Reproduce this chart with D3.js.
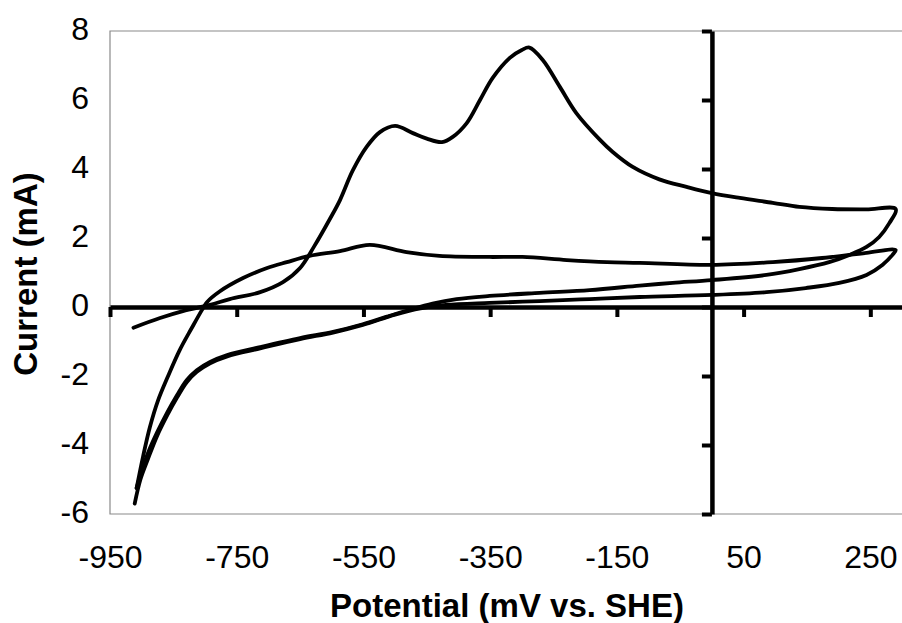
<!DOCTYPE html>
<html>
<head>
<meta charset="utf-8">
<script src="https://cdn.jsdelivr.net/npm/d3@7"></script>
<style>
  body { margin: 0; background: #fff; }
  svg { display: block; }
</style>
</head>
<body>
<svg id="chart" width="902" height="623"></svg>
<script>
const xTicks = [-950, -750, -550, -350, -150, 50, 250];
const yTicks = [-6, -4, -2, 0, 2, 4, 6, 8];

// first sweep: [potential mV, current mA], in scan order
const cycle1 = [
  [-913, -0.6], [-871, -0.32], [-835, -0.12], [-792, 0.06], [-761, 0.23],
  [-713, 0.43], [-677, 0.72], [-650, 1.13], [-628, 1.75], [-603, 2.55],
  [-587, 3.1], [-567, 3.95], [-545, 4.64], [-524, 5.07], [-500, 5.25],
  [-472, 5.04], [-450, 4.88], [-426, 4.78], [-409, 4.93], [-387, 5.33],
  [-366, 6.0], [-346, 6.64], [-319, 7.22], [-300, 7.45], [-288, 7.52],
  [-267, 7.16], [-240, 6.38], [-214, 5.62], [-177, 4.85], [-157, 4.5],
  [-125, 4.06], [-83, 3.7], [-40, 3.48], [0, 3.3], [44, 3.16],
  [96, 3.02], [138, 2.9], [190, 2.84], [244, 2.83], [290, 2.84],
  [280, 2.43], [264, 2.03], [244, 1.74], [217, 1.51], [185, 1.3],
  [138, 1.1], [86, 0.93], [0, 0.78], [-62, 0.7], [-114, 0.62],
  [-193, 0.49], [-272, 0.41], [-351, 0.32], [-403, 0.23], [-441, 0.1],
  [-477, -0.08], [-513, -0.28], [-551, -0.5], [-598, -0.72], [-650, -0.9],
  [-713, -1.16], [-765, -1.39], [-792, -1.59], [-813, -1.83], [-829, -2.12],
  [-844, -2.55], [-860, -3.07], [-876, -3.65], [-890, -4.23], [-900, -4.75],
  [-908, -5.25]
];

// second sweep, starts where the first one ends
const cycle2 = [
  [-908, -5.25], [-898, -4.35], [-887, -3.48], [-874, -2.7], [-859, -2.03],
  [-840, -1.25], [-821, -0.61], [-805, -0.09], [-797, 0.14], [-777, 0.45],
  [-740, 0.84], [-702, 1.13], [-671, 1.3], [-635, 1.48], [-587, 1.62],
  [-540, 1.8], [-482, 1.59], [-430, 1.48], [-351, 1.45], [-299, 1.45],
  [-229, 1.36], [-166, 1.3], [-114, 1.28], [-1, 1.22], [96, 1.3],
  [174, 1.42], [244, 1.57], [290, 1.65], [285, 1.51], [269, 1.22],
  [244, 0.93], [201, 0.7], [148, 0.55], [86, 0.43], [0, 0.35],
  [-114, 0.29], [-193, 0.23], [-272, 0.17], [-351, 0.12], [-420, 0.06],
  [-460, -0.04], [-500, -0.22], [-551, -0.52], [-598, -0.74], [-650, -0.93],
  [-713, -1.2], [-765, -1.43], [-792, -1.63], [-813, -1.88], [-829, -2.18],
  [-844, -2.62], [-860, -3.15], [-876, -3.75], [-890, -4.4], [-902, -5.0],
  [-911, -5.7]
];

const font = "Arial, 'Liberation Sans', Helvetica, sans-serif";
const svg = d3.select("#chart");

const x = d3.scaleLinear().domain([-950, 300]).range([110, 902]);
const y = d3.scaleLinear().domain([-6, 8]).range([514, 31]);

// thin grey plot frame (no right side)
svg.append("path")
    .attr("d", `M902,${y(8)}H${x(-950)}V${y(-6)}H902`)
    .attr("fill", "none")
    .attr("stroke", "#8a8a8a")
    .attr("stroke-width", 1.2);

// curves
const line = d3.line()
    .x(d => x(d[0]))
    .y(d => y(d[1]))
    .curve(d3.curveCatmullRom.alpha(0.5));

svg.selectAll("path.cv")
    .data([cycle1, cycle2])
    .enter().append("path")
    .attr("class", "cv")
    .attr("d", line)
    .attr("fill", "none")
    .attr("stroke", "#000")
    .attr("stroke-width", 3.8)
    .attr("stroke-linejoin", "round")
    .attr("stroke-linecap", "round");

// axes cross at zero, ticks only
const xZero = svg.append("g")
    .attr("transform", `translate(0,${y(0)})`)
    .call(d3.axisBottom(x).tickValues(xTicks).tickSize(10).tickSizeOuter(0).tickFormat(""));

const yZero = svg.append("g")
    .attr("transform", `translate(${x(0)},0)`)
    .call(d3.axisLeft(y).tickValues(yTicks).tickSize(10).tickSizeOuter(0).tickFormat(""));

[xZero, yZero].forEach(g => {
    g.select(".domain").attr("stroke-width", 4.5);
    g.selectAll(".tick line").attr("stroke-width", 4);
});

// tick labels sit at the frame edges, plain hyphen for minus
const plain = d => String(d);

const xLabels = svg.append("g")
    .attr("transform", `translate(0,${y(-6)})`)
    .call(d3.axisBottom(x).tickValues(xTicks).tickSize(0).tickPadding(31).tickFormat(plain));

const yLabels = svg.append("g")
    .attr("transform", `translate(${x(-950)},0)`)
    .call(d3.axisLeft(y).tickValues(yTicks).tickSize(0).tickPadding(21).tickFormat(plain));

[xLabels, yLabels].forEach(g => {
    g.select(".domain").remove();
    g.attr("font-size", 32).attr("font-family", font);
    g.selectAll("text").attr("fill", "#000");
});
yLabels.selectAll("text").attr("dy", "0.25em");

// axis titles
svg.append("text")
    .attr("x", 507)
    .attr("y", 617)
    .attr("text-anchor", "middle")
    .attr("font-family", font)
    .attr("font-weight", "bold")
    .attr("font-size", 33)
    .text("Potential (mV vs. SHE)");

svg.append("text")
    .attr("transform", "translate(37,274) rotate(-90)")
    .attr("text-anchor", "middle")
    .attr("font-family", font)
    .attr("font-weight", "bold")
    .attr("font-size", 33)
    .text("Current (mA)");
</script>
</body>
</html>
